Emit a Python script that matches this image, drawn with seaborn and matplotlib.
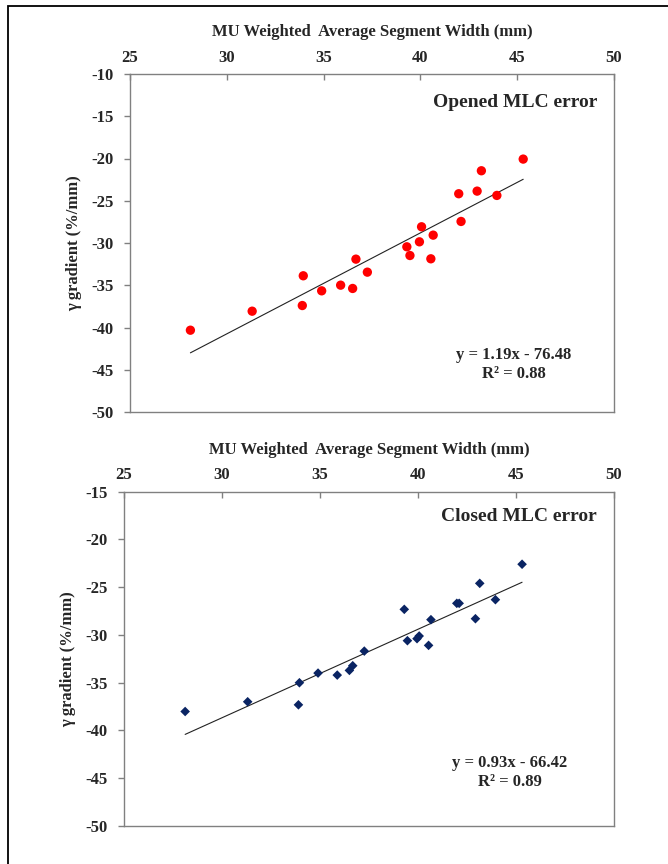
import matplotlib
matplotlib.use("Agg")
import matplotlib.pyplot as plt
import matplotlib.patches as mpatches
import seaborn as sns
import pandas as pd

# MU weighted average segment width (mm), shared by both panels
seg_width = [28.12, 31.31, 33.95, 33.90, 34.90, 35.88, 36.50, 36.67, 37.26, 39.30, 39.46,
             39.95, 40.06, 40.54, 40.66, 41.98, 42.10, 42.93, 43.15, 43.95, 45.31]

# gamma gradient (%/mm) for opened MLC error
opened_grad = [-40.32, -38.07, -33.88, -37.40, -35.66, -34.99, -35.38, -31.91, -33.45, -30.45, -31.48,
               -29.86, -28.08, -31.87, -29.07, -24.17, -27.45, -23.86, -21.45, -24.37, -20.07]

# gamma gradient (%/mm) for closed MLC error
closed_grad = [-38.02, -37.00, -35.01, -37.32, -34.00, -34.21, -33.72, -33.23, -31.70, -27.33, -30.61,
               -30.40, -30.12, -31.10, -28.41, -26.70, -26.70, -28.31, -24.61, -26.32, -22.61]

x_ticks = [25, 30, 35, 40, 45, 50]
opened_yticks = [-10, -15, -20, -25, -30, -35, -40, -45, -50]
closed_yticks = [-15, -20, -25, -30, -35, -40, -45, -50]

opened = pd.DataFrame({"width": seg_width, "grad": opened_grad})
closed = pd.DataFrame({"width": seg_width, "grad": closed_grad})

sns.set_style("white")
plt.rcParams["font.family"] = ["Liberation Serif", "DejaVu Serif"]
plt.rcParams["font.weight"] = "bold"
plt.rcParams["axes.unicode_minus"] = False

fig = plt.figure(figsize=(6.68, 8.64), dpi=100)

# outer frame of the original figure
fig.patches.append(mpatches.Rectangle((8 / 668, -0.1), 2, 1.1 - 6 / 864, transform=fig.transFigure,
                                      fill=False, lw=1.3, edgecolor="black"))

ax1 = fig.add_axes([130 / 668, 1 - 412 / 864, 484 / 668, 338 / 864])
ax2 = fig.add_axes([124 / 668, 1 - 826 / 864, 490 / 668, 334.5 / 864])


def style_axes(ax, yticks, ymin, ymax):
    ax.set_xlim(25, 50)
    ax.set_ylim(ymin, ymax)
    ax.xaxis.tick_top()
    ax.xaxis.set_label_position("top")
    ax.set_xticks(x_ticks)
    ax.set_yticks(yticks)
    for s in ax.spines.values():
        s.set_color("#808080")
        s.set_linewidth(1.0)
    ax.tick_params(axis="x", direction="in", length=4, width=1, color="#808080",
                   labelsize=12, pad=6, top=True, bottom=False)
    ax.tick_params(axis="y", direction="out", length=4, width=1, color="#808080",
                   labelsize=12, pad=8, left=True)
    for lab in ax.get_xticklabels() + ax.get_yticklabels():
        lab.set_fontweight("bold")
    ax.set_xlabel("MU Weighted  Average Segment Width (mm)", fontsize=12, fontweight="bold", labelpad=9.5)
    ax.set_ylabel("\u03b3 gradient (%/mm)", fontsize=12, fontweight="bold", labelpad=6)


# opened MLC error
sns.regplot(data=opened, x="width", y="grad", scatter=False, ci=None, ax=ax1,
            line_kws={"color": "#222222", "lw": 0.8})
sns.scatterplot(data=opened, x="width", y="grad", ax=ax1, color="#ff0000", s=45,
                marker="o", edgecolor="none", zorder=3)
style_axes(ax1, opened_yticks, -50, -10)
ax1.text(0.965, 0.917, "Opened MLC error", transform=ax1.transAxes, ha="right", va="center",
         fontsize=14, fontweight="bold")
ax1.text(0.793, 0.140, "y = 1.19x - 76.48\nR\u00b2 = 0.88", transform=ax1.transAxes,
         ha="center", va="center", fontsize=12, fontweight="bold", linespacing=1.3)

# closed MLC error
sns.regplot(data=closed, x="width", y="grad", scatter=False, ci=None, ax=ax2,
            line_kws={"color": "#222222", "lw": 0.8})
sns.scatterplot(data=closed, x="width", y="grad", ax=ax2, color="#0a2463", s=24,
                marker="D", edgecolor="none", zorder=3)
style_axes(ax2, closed_yticks, -50, -15)
ax2.text(0.965, 0.924, "Closed MLC error", transform=ax2.transAxes, ha="right", va="center",
         fontsize=14, fontweight="bold")
ax2.text(0.788, 0.160, "y = 0.93x - 66.42\nR\u00b2 = 0.89", transform=ax2.transAxes,
         ha="center", va="center", fontsize=12, fontweight="bold", linespacing=1.3)

fig.savefig("out.png", dpi=100)
